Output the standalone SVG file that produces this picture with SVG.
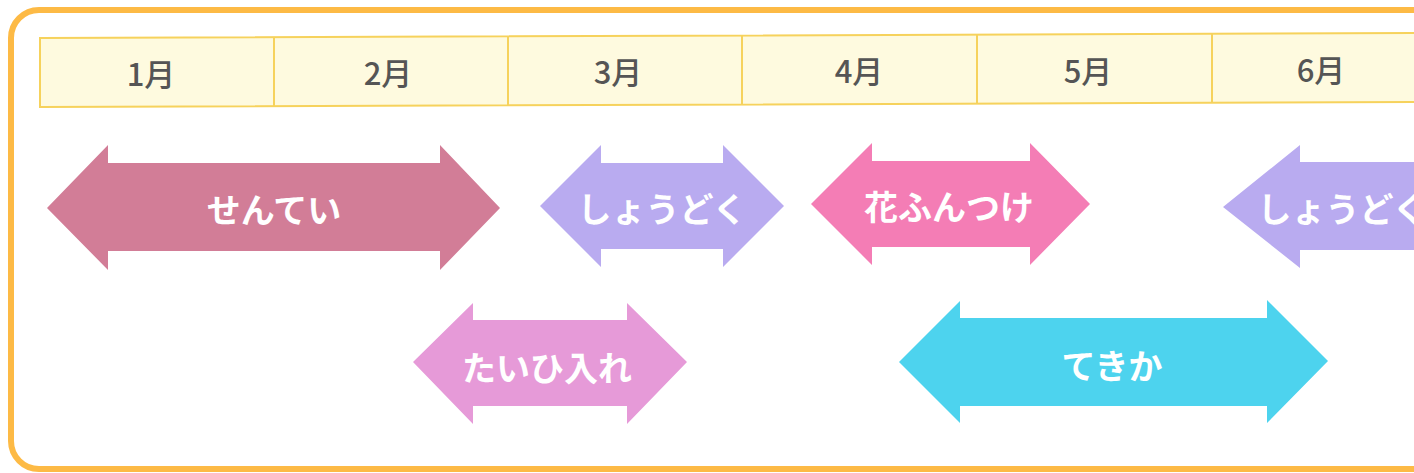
<svg xmlns="http://www.w3.org/2000/svg" width="1414" height="473" viewBox="0 0 1414 473">
<style>
.frame{fill:#ffffff;stroke:#FDBA45;stroke-width:6}
.hdr{fill:#FEFADF;stroke:#F6D25C;stroke-width:2}
.div{stroke:#F6D25C;stroke-width:2}
.mon{font-family:"Noto Sans CJK JP","Noto Sans",sans-serif;font-size:31px;font-weight:500;fill:#555555;text-anchor:middle;dominant-baseline:central}
.lbl{font-family:"Noto Sans CJK JP","Noto Sans",sans-serif;font-size:34px;font-weight:700;fill:#ffffff;text-anchor:middle;dominant-baseline:central}
</style>
<rect width="1414" height="473" fill="#ffffff"/>
<rect class="frame" x="11" y="10" width="1440" height="459" rx="28"/>
<g id="header">
<polygon class="hdr" points="40,38 1420,33 1420,102 40,107"/>
<line class="div" x1="274" y1="37" x2="274" y2="106"/>
<line class="div" x1="508" y1="36" x2="508" y2="105"/>
<line class="div" x1="742" y1="35" x2="742" y2="104"/>
<line class="div" x1="977" y1="34" x2="977" y2="103"/>
<line class="div" x1="1212" y1="34" x2="1212" y2="103"/>
<text class="mon" x="151" y="72">1月</text>
<text class="mon" x="388" y="71">2月</text>
<text class="mon" x="618" y="70">3月</text>
<text class="mon" x="859" y="69">4月</text>
<text class="mon" x="1088" y="69">5月</text>
<text class="mon" x="1321" y="68">6月</text>
</g>
<g id="sentei">
<path fill="#D27D97" d="M47,208 L108,145 L108,163 L440,163 L440,145 L500,208 L440,270 L440,251 L108,251 L108,270 Z"/>
<text class="lbl" x="274" y="208">せんてい</text>
</g>
<g id="shoudoku1">
<path fill="#B9ABF0" d="M540,206 L601,145 L601,163 L723,163 L723,145 L784,206 L723,267 L723,249 L601,249 L601,267 Z"/>
<text class="lbl" x="662" y="207">しょうどく</text>
</g>
<g id="kafun">
<path fill="#F47DB5" d="M811,204 L872,143 L872,161 L1030,161 L1030,143 L1090,204 L1030,265 L1030,247 L872,247 L872,265 Z"/>
<text class="lbl" x="949" y="205">花ふんつけ</text>
</g>
<g id="shoudoku2">
<path fill="#B9ABF0" d="M1223,207 L1300,145 L1300,162 L1500,162 L1500,250 L1300,250 L1300,268 Z"/>
<text class="lbl" x="1342" y="207">しょうどく</text>
</g>
<g id="taihi">
<path fill="#E69AD8" d="M413,362 L473,303 L473,320 L627,320 L627,303 L687,362 L627,424 L627,406 L473,406 L473,424 Z"/>
<text class="lbl" x="547" y="366">たいひ入れ</text>
</g>
<g id="tekika">
<path fill="#4DD3EE" d="M899,362 L960,301 L960,318 L1267,318 L1267,300 L1328,361 L1267,423 L1267,406 L960,406 L960,423 Z"/>
<text class="lbl" x="1112" y="364">てきか</text>
</g>
<g id="connectors"/>
</svg>
